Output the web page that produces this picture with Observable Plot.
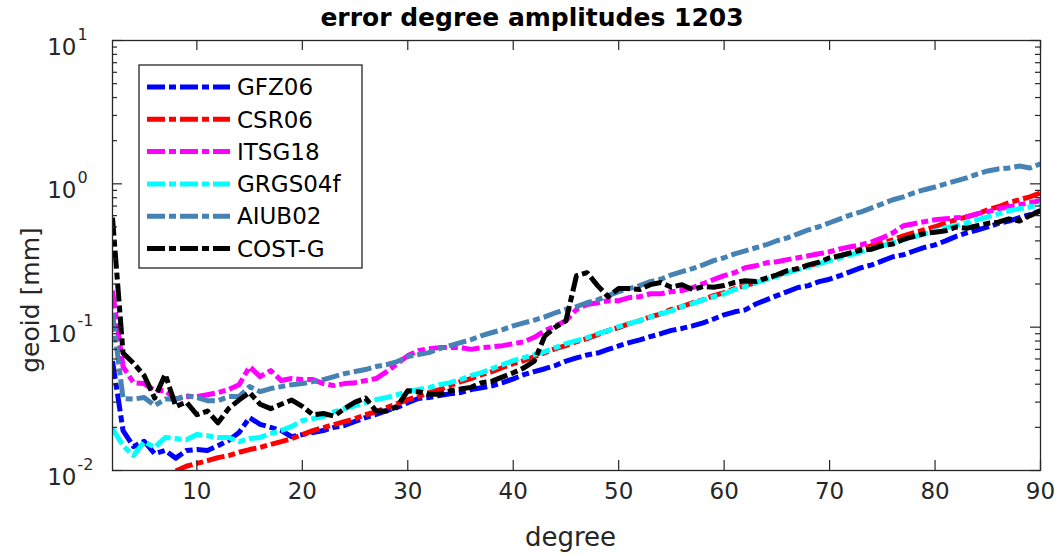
<!DOCTYPE html>
<html>
<head>
<meta charset="utf-8">
<script src="https://cdn.jsdelivr.net/npm/d3@7"></script>
<script src="https://cdn.jsdelivr.net/npm/@observablehq/plot@0.6"></script>
<style>
  body { margin: 0; background: #fff; font-family: "DejaVu Sans", "Liberation Sans", Arial, sans-serif; }
  #wrap { width: 1056px; height: 556px; overflow: hidden; }
  #title { height: 28px; width: 1056px; box-sizing: border-box; padding-left: 8px; text-align: center; font-weight: bold;
           font-size: 25px; line-height: 28px; position: relative; top: 4px; color: #000; }
  svg { display: block; }
</style>
</head>
<body>
<div id="wrap">
  <div id="title">error degree amplitudes 1203</div>
  <div id="chart"></div>
</div>
<script>
const degrees = [2,3,4,5,6,7,8,9,10,11,12,13,14,15,16,17,18,19,20,21,22,23,24,25,26,27,28,29,30,31,32,33,34,35,36,37,38,39,40,41,42,43,44,45,46,47,48,49,50,51,52,53,54,55,56,57,58,59,60,61,62,63,64,65,66,67,68,69,70,71,72,73,74,75,76,77,78,79,80,81,82,83,84,85,86,87,88,89,90];

const seriesNames = ["GFZ06", "CSR06", "ITSG18", "GRGS04f", "AIUB02", "COST-G"];
const seriesColors = ["#0000ff", "#ff0000", "#ff00ff", "#00ffff", "#4682b4", "#000000"];

const gfz06 = [0.058, 0.019, 0.0147, 0.016, 0.0131, 0.0138, 0.0122, 0.0138, 0.014, 0.0138,
  0.0149, 0.0162, 0.0184, 0.0234, 0.021, 0.020, 0.019, 0.0172, 0.0178, 0.0184,
  0.019, 0.020, 0.0206, 0.022, 0.0234, 0.0246, 0.0262, 0.0275, 0.0297, 0.0318,
  0.0323, 0.0333, 0.0343, 0.035, 0.0367, 0.0378, 0.039, 0.041, 0.0436, 0.0466,
  0.049, 0.0513, 0.054, 0.058, 0.061, 0.064, 0.066, 0.070, 0.074, 0.078,
  0.0815, 0.086, 0.090, 0.095, 0.098, 0.102, 0.107, 0.114, 0.122, 0.128,
  0.132, 0.145, 0.155, 0.166, 0.177, 0.189, 0.195, 0.208, 0.216, 0.229,
  0.244, 0.26, 0.272, 0.29, 0.31, 0.32, 0.34, 0.36, 0.375, 0.40,
  0.43, 0.455, 0.475, 0.50, 0.53, 0.55, 0.58, 0.61, 0.65];

const csr06 = [null, null, null, null, null, null,
  0.0099, 0.0107, 0.0112, 0.0117, 0.0123, 0.0127, 0.0134, 0.0140, 0.0145, 0.0152,
  0.0159, 0.0167, 0.0178, 0.0190, 0.0199, 0.0209, 0.0219, 0.0230, 0.0245, 0.0257,
  0.0275, 0.0293, 0.0312, 0.0328, 0.0349, 0.0367, 0.0391, 0.0417, 0.0438, 0.0467,
  0.049, 0.0523, 0.0557, 0.0584, 0.0623, 0.0664, 0.0708, 0.0743, 0.0792, 0.0832,
  0.0887, 0.0946, 0.0993, 0.106, 0.111, 0.118, 0.124, 0.133, 0.139, 0.148,
  0.155, 0.166, 0.174, 0.186, 0.195, 0.205, 0.218, 0.229, 0.244, 0.256,
  0.268, 0.281, 0.300, 0.315, 0.330, 0.352, 0.370, 0.388, 0.407, 0.434,
  0.456, 0.478, 0.502, 0.535, 0.561, 0.589, 0.618, 0.659, 0.692, 0.738,
  0.774, 0.812, 0.866];

const itsg18 = [0.180, 0.053, 0.0410, 0.0404, 0.0361, 0.0361, 0.0315, 0.0328, 0.0328, 0.0338,
  0.0349, 0.0367, 0.0397, 0.0530, 0.0452, 0.0498, 0.0424, 0.0438, 0.0431, 0.0431,
  0.0404, 0.0391, 0.0404, 0.041, 0.0424, 0.0438, 0.049, 0.0557, 0.0633, 0.0686,
  0.0708, 0.072, 0.072, 0.072, 0.070, 0.072, 0.073, 0.0743, 0.0767, 0.079,
  0.085, 0.0946, 0.102, 0.111, 0.133, 0.144, 0.148, 0.153, 0.153, 0.161,
  0.163, 0.171, 0.171, 0.177, 0.180, 0.189, 0.201, 0.215, 0.229, 0.240,
  0.260, 0.268, 0.281, 0.286, 0.296, 0.305, 0.315, 0.325, 0.336, 0.352,
  0.364, 0.376, 0.394, 0.420, 0.455, 0.510, 0.527, 0.545, 0.561, 0.570,
  0.579, 0.589, 0.618, 0.638, 0.670, 0.692, 0.714, 0.738, 0.762];

const grgs04f = [0.0196, 0.0149, 0.0127, 0.0159, 0.0145, 0.0170, 0.0167, 0.0164, 0.0178, 0.0175,
  0.0170, 0.0170, 0.0159, 0.0167, 0.0170, 0.0181, 0.0190, 0.0203, 0.0223, 0.0230,
  0.0238, 0.0257, 0.027, 0.0284, 0.0298, 0.0312, 0.0323, 0.0338, 0.0355, 0.0367,
  0.0378, 0.0397, 0.041, 0.043, 0.0459, 0.0482, 0.0514, 0.0548, 0.0584, 0.0612,
  0.0643, 0.0675, 0.072, 0.0767, 0.0805, 0.0845, 0.090, 0.0946, 0.101, 0.106,
  0.111, 0.118, 0.124, 0.130, 0.139, 0.146, 0.155, 0.163, 0.171, 0.183,
  0.192, 0.205, 0.215, 0.225, 0.240, 0.252, 0.264, 0.277, 0.291, 0.305,
  0.320, 0.336, 0.352, 0.370, 0.388, 0.407, 0.427, 0.448, 0.470, 0.494,
  0.510, 0.535, 0.561, 0.589, 0.618, 0.649, 0.670, 0.692, 0.714];

const aiub02 = [0.124, 0.0318, 0.0315, 0.0323, 0.0284, 0.0315, 0.0315, 0.0333, 0.0323, 0.0307,
  0.0307, 0.0328, 0.0328, 0.0385, 0.0355, 0.0373, 0.0385, 0.0397, 0.0404, 0.0417,
  0.0431, 0.0452, 0.0474, 0.049, 0.0506, 0.0531, 0.0548, 0.0575, 0.0623, 0.0643,
  0.0664, 0.0708, 0.0743, 0.078, 0.0819, 0.0873, 0.0918, 0.0962, 0.102, 0.107,
  0.112, 0.118, 0.126, 0.133, 0.139, 0.148, 0.155, 0.166, 0.177, 0.186,
  0.195, 0.208, 0.216, 0.232, 0.244, 0.256, 0.272, 0.291, 0.305, 0.325,
  0.341, 0.358, 0.376, 0.401, 0.420, 0.448, 0.478, 0.502, 0.535, 0.570,
  0.608, 0.638, 0.680, 0.725, 0.774, 0.812, 0.866, 0.91, 0.95, 1.00,
  1.05, 1.10, 1.17, 1.23, 1.27, 1.29, 1.33, 1.29, 1.38];

const costg = [0.58, 0.066, 0.056, 0.046, 0.032, 0.047, 0.028, 0.030, 0.0245, 0.026,
  0.0215, 0.027, 0.031, 0.035, 0.029, 0.027, 0.029, 0.031, 0.028, 0.0245,
  0.025, 0.024, 0.027, 0.030, 0.032, 0.026, 0.026, 0.028, 0.036, 0.0355,
  0.034, 0.034, 0.036, 0.037, 0.038, 0.041, 0.042, 0.045, 0.048, 0.052,
  0.058, 0.087, 0.100, 0.111, 0.229, 0.24, 0.195, 0.163, 0.186, 0.186,
  0.183, 0.198, 0.205, 0.19, 0.198, 0.183, 0.192, 0.19, 0.195, 0.205,
  0.211, 0.208, 0.22, 0.232, 0.248, 0.256, 0.272, 0.284, 0.305, 0.315,
  0.33, 0.345, 0.35, 0.37, 0.38, 0.41, 0.43, 0.45, 0.46, 0.47,
  0.50, 0.49, 0.51, 0.53, 0.54, 0.57, 0.55, 0.60, 0.65];

const xTicks = [10, 20, 30, 40, 50, 60, 70, 80, 90];
const yMajor = [10, 1, 0.1, 0.01];
const yExponents = ["1", "0", "-1", "-2"];
const yMinor = [0.02,0.03,0.04,0.05,0.06,0.07,0.08,0.09,0.2,0.3,0.4,0.5,0.6,0.7,0.8,0.9,2,3,4,5,6,7,8,9];
const xLabel = "degree";
const yLabel = "geoid [mm]";

const allSeries = [gfz06, csr06, itsg18, grgs04f, aiub02, costg];
const rows = allSeries.flatMap((vals, i) =>
  degrees.map((d, j) => ({degree: d, value: vals[j], series: seriesNames[i]})));

const W = 1056, H = 528, topOffset = 28;
const mL = 112, mR = 16, mT = 12, mB = 86;
const iw = W - mL - mR, ih = H - mT - mB;
const axisColor = "#262626";
const dash = "18,4,7,4";
const lw = 5;
const fontFam = '"DejaVu Sans", "Liberation Sans", Arial, sans-serif';

const chart = Plot.plot({
  width: W, height: H,
  marginLeft: mL, marginRight: mR, marginTop: mT, marginBottom: mB,
  style: {fontFamily: fontFam, background: "#fff", overflow: "visible"},
  x: {domain: [2, 90], axis: null},
  y: {type: "log", domain: [0.01, 10], axis: null},
  color: {domain: seriesNames, range: seriesColors},
  marks: [
    Plot.line(rows, {x: "degree", y: "value", z: "series", stroke: "series",
      strokeWidth: lw, strokeDasharray: dash, clip: true}),
    Plot.frame({stroke: axisColor, strokeWidth: 1.3}),
    Plot.tickX(xTicks, {x: d => d, insetTop: ih - 10, stroke: axisColor, strokeWidth: 1.2}),
    Plot.tickX(xTicks, {x: d => d, insetBottom: ih - 10, stroke: axisColor, strokeWidth: 1.2}),
    Plot.tickY(yMajor, {y: d => d, insetRight: iw - 10, stroke: axisColor, strokeWidth: 1.2}),
    Plot.tickY(yMajor, {y: d => d, insetLeft: iw - 10, stroke: axisColor, strokeWidth: 1.2}),
    Plot.tickY(yMinor, {y: d => d, insetRight: iw - 5, stroke: axisColor, strokeWidth: 1.2}),
    Plot.tickY(yMinor, {y: d => d, insetLeft: iw - 5, stroke: axisColor, strokeWidth: 1.2}),
    Plot.text(xTicks, {x: d => d, text: d => String(d), frameAnchor: "bottom", lineAnchor: "top",
      dy: 12, fontSize: 23, fill: axisColor}),
    Plot.text(yMajor, {y: d => d, text: () => "10", frameAnchor: "left", textAnchor: "end",
      dx: -36, dy: 7, fontSize: 23, fill: axisColor}),
    Plot.text(yMajor, {y: d => d, text: (d, i) => yExponents[i], frameAnchor: "left", textAnchor: "start",
      dx: -35, dy: -6, fontSize: 16, fill: axisColor}),
    Plot.text([xLabel], {text: d => d, frameAnchor: "bottom", lineAnchor: "top", dx: -6, dy: 57,
      fontSize: 26, fill: axisColor})
  ]
});

document.getElementById("chart").appendChild(chart);

const svg = d3.select(chart);
svg.selectAll('g[aria-label="line"] path')
  .attr("stroke-dasharray", dash).attr("stroke-width", lw).attr("stroke-linecap", "butt");

// y axis label
svg.append("text")
  .attr("transform", `translate(30, ${300 - topOffset}) rotate(-90)`)
  .attr("text-anchor", "middle").attr("dy", "0.35em")
  .attr("font-size", 25).attr("font-family", fontFam).attr("fill", axisColor)
  .text(yLabel);

// legend
const lgX = 139, lgY = 65 - topOffset, lgW = 223, lgH = 203;
const lg = svg.append("g").attr("text-anchor", "start").attr("font-family", fontFam);
lg.append("rect").attr("x", lgX).attr("y", lgY).attr("width", lgW).attr("height", lgH)
  .attr("fill", "#fff").attr("stroke", axisColor).attr("stroke-width", 1.3);
seriesNames.forEach((name, i) => {
  const cy = lgY + 22 + i * 32.3;
  lg.append("line").attr("x1", lgX + 8).attr("x2", lgX + 91).attr("y1", cy).attr("y2", cy)
    .attr("stroke", seriesColors[i]).attr("stroke-width", lw).attr("stroke-dasharray", dash);
  lg.append("text").attr("x", lgX + 98).attr("y", cy).attr("dy", "0.36em")
    .attr("text-anchor", "start").attr("font-size", 23).attr("fill", "#000").text(name);
});
</script>
</body>
</html>
